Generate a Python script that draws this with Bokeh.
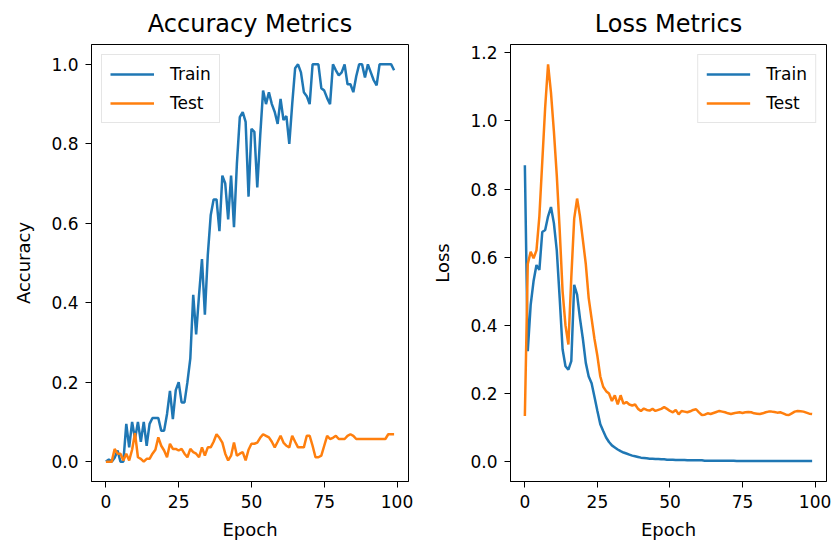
from bokeh.plotting import figure
from bokeh.layouts import row
from bokeh.models import Range1d, FixedTicker, PrintfTickFormatter
from bokeh.embed import file_html
from bokeh.resources import INLINE

epochs = list(range(100))

train_acc = [
    0.0, 0.005, 0.0, 0.01, 0.028, 0.0, 0.0, 0.095, 0.036, 0.1,
    0.057, 0.1, 0.05, 0.1, 0.04, 0.095, 0.11, 0.11, 0.11, 0.078,
    0.078, 0.12, 0.178, 0.107, 0.18, 0.2, 0.149, 0.149, 0.2, 0.26,
    0.42, 0.32, 0.42, 0.51, 0.37, 0.52, 0.62, 0.66, 0.66, 0.58,
    0.72, 0.70, 0.61, 0.72, 0.59, 0.75, 0.867, 0.88, 0.855, 0.667,
    0.838, 0.83, 0.69, 0.82, 0.934, 0.90, 0.93, 0.90, 0.88, 0.85,
    0.913, 0.86, 0.87, 0.80, 0.90, 0.99, 1.0, 0.98, 0.93, 0.92,
    0.90, 1.0, 1.0, 1.0, 0.94, 0.934, 0.915, 0.90, 1.0, 0.985,
    0.972, 0.98, 1.0, 0.95, 0.95, 0.93, 0.97, 1.0, 1.0, 0.967,
    1.0, 0.98, 0.96, 0.947, 1.0, 1.0, 1.0, 1.0, 1.0, 0.985,
]

test_acc = [
    0.0, 0.0, 0.0, 0.032, 0.02, 0.02, 0.003, 0.02, 0.003, 0.03,
    0.072, 0.011, 0.007, 0.0, 0.007, 0.007, 0.02, 0.03, 0.061, 0.04,
    0.028, 0.011, 0.045, 0.032, 0.032, 0.028, 0.032, 0.02, 0.011, 0.032,
    0.024, 0.02, 0.011, 0.036, 0.015, 0.036, 0.036, 0.05, 0.069, 0.06,
    0.048, 0.02, 0.003, 0.015, 0.048, 0.015, 0.02, 0.024, 0.003, 0.03,
    0.045, 0.045, 0.048, 0.06, 0.069, 0.065, 0.061, 0.05, 0.036, 0.05,
    0.065, 0.048, 0.04, 0.036, 0.065, 0.05, 0.036, 0.036, 0.036, 0.065,
    0.065, 0.04, 0.011, 0.011, 0.015, 0.04, 0.065, 0.057, 0.06, 0.065,
    0.057, 0.057, 0.057, 0.065, 0.069, 0.065, 0.057, 0.057, 0.057, 0.057,
    0.057, 0.057, 0.057, 0.057, 0.057, 0.057, 0.057, 0.069, 0.069, 0.069,
]

train_loss = [
    0.87, 0.324, 0.46, 0.53, 0.577, 0.563, 0.674, 0.68, 0.72, 0.747,
    0.70, 0.62, 0.48, 0.33, 0.28, 0.27, 0.295, 0.519, 0.49, 0.42,
    0.36, 0.29, 0.25, 0.23, 0.19, 0.149, 0.11, 0.09, 0.071, 0.058,
    0.048, 0.042, 0.036, 0.031, 0.027, 0.024, 0.021, 0.018, 0.016, 0.014,
    0.012, 0.011, 0.010, 0.009, 0.009, 0.008, 0.008, 0.007, 0.007, 0.006,
    0.006, 0.006, 0.005, 0.005, 0.005, 0.005, 0.004, 0.004, 0.004, 0.004,
    0.004, 0.004, 0.003, 0.003, 0.003, 0.003, 0.003, 0.003, 0.003, 0.003,
    0.003, 0.003, 0.003, 0.002, 0.002, 0.002, 0.002, 0.002, 0.002, 0.002,
    0.002, 0.002, 0.002, 0.002, 0.002, 0.002, 0.002, 0.002, 0.002, 0.002,
    0.002, 0.002, 0.002, 0.002, 0.002, 0.002, 0.002, 0.002, 0.002, 0.002,
]

test_loss = [
    0.134, 0.58, 0.616, 0.597, 0.62, 0.72, 0.88, 1.04, 1.166, 1.083,
    0.97, 0.84, 0.68, 0.50, 0.40, 0.344, 0.54, 0.713, 0.772, 0.72,
    0.65, 0.58, 0.48, 0.42, 0.36, 0.31, 0.25, 0.22, 0.207, 0.20,
    0.178, 0.195, 0.168, 0.195, 0.17, 0.175, 0.168, 0.165, 0.168, 0.155,
    0.149, 0.156, 0.152, 0.15, 0.155, 0.149, 0.152, 0.155, 0.16, 0.155,
    0.149, 0.145, 0.152, 0.139, 0.149, 0.147, 0.145, 0.148, 0.152, 0.154,
    0.145, 0.137, 0.138, 0.142, 0.14, 0.143, 0.146, 0.149, 0.147, 0.145,
    0.142, 0.14, 0.142, 0.144, 0.145, 0.143, 0.145, 0.146, 0.145, 0.142,
    0.141, 0.14, 0.142, 0.145, 0.147, 0.147, 0.146, 0.144, 0.145, 0.142,
    0.138, 0.137, 0.142, 0.147, 0.149, 0.148, 0.147, 0.144, 0.141, 0.14,
]

x_ticks = [0, 25, 50, 75, 100]
acc_ticks = [0.0, 0.2, 0.4, 0.6, 0.8, 1.0]
loss_ticks = [0.0, 0.2, 0.4, 0.6, 0.8, 1.0, 1.2]

BLUE = "#1f77b4"
ORANGE = "#ff7f0e"
FONT = "DejaVu Sans"


def make_fig(title, ylabel, ys_train, ys_test, yticks, y_range, width,
             bl, br, legend_loc):
    p = figure(width=width, height=544, output_backend="svg",
               toolbar_location=None, title=title,
               x_range=Range1d(-4.95, 103.95), y_range=Range1d(*y_range),
               min_border_left=bl, min_border_right=br,
               min_border_top=42, min_border_bottom=63)
    p.line(epochs, ys_train, line_color=BLUE, line_width=2.5, legend_label="Train")
    p.line(epochs, ys_test, line_color=ORANGE, line_width=2.5, legend_label="Test")

    p.title.align = "center"
    p.title.text_font = FONT
    p.title.text_font_size = "24px"
    p.title.text_font_style = "normal"
    p.title.text_color = "black"
    p.title.standoff = 14

    p.xgrid.visible = False
    p.ygrid.visible = False
    p.outline_line_color = "black"
    p.outline_line_width = 1
    p.outline_line_alpha = 1.0

    p.xaxis.ticker = FixedTicker(ticks=x_ticks, minor_ticks=[])
    p.yaxis.ticker = FixedTicker(ticks=yticks, minor_ticks=[])
    p.yaxis.formatter = PrintfTickFormatter(format="%.1f")
    p.xaxis.axis_label = "Epoch"
    p.yaxis.axis_label = ylabel
    for ax in (p.xaxis, p.yaxis):
        ax.axis_line_color = "black"
        ax.major_tick_line_color = "black"
        ax.major_tick_out = 6
        ax.major_tick_in = 0
        ax.minor_tick_out = 0
        ax.minor_tick_in = 0
        ax.major_label_standoff = 7
        ax.major_label_text_font = FONT
        ax.major_label_text_font_size = "17px"
        ax.major_label_text_color = "black"
        ax.axis_label_text_font = FONT
        ax.axis_label_text_font_size = "18px"
        ax.axis_label_text_font_style = "normal"
        ax.axis_label_text_color = "black"
    p.xaxis.axis_label_standoff = 8
    p.yaxis.axis_label_standoff = 14

    lg = p.legend[0]
    lg.location = legend_loc
    lg.margin = 10
    lg.padding = 8
    lg.spacing = 7
    lg.glyph_width = 44
    lg.glyph_height = 22
    lg.label_height = 22
    lg.label_standoff = 16
    lg.label_text_font = FONT
    lg.label_text_font_size = "17px"
    lg.label_text_color = "black"
    lg.border_line_color = "#cccccc"
    lg.border_line_width = 1
    lg.background_fill_alpha = 0.8
    return p


p1 = make_fig("Accuracy Metrics", "Accuracy", train_acc, test_acc, acc_ticks,
              (-0.05, 1.05), 426, 91, 18, "top_left")
p2 = make_fig("Loss Metrics", "Loss", train_loss, test_loss, loss_ticks,
              (-0.058, 1.224), 408, 84, 8, "top_right")

layout = row(p1, p2)
open("out.html", "w").write(file_html(layout, INLINE))
